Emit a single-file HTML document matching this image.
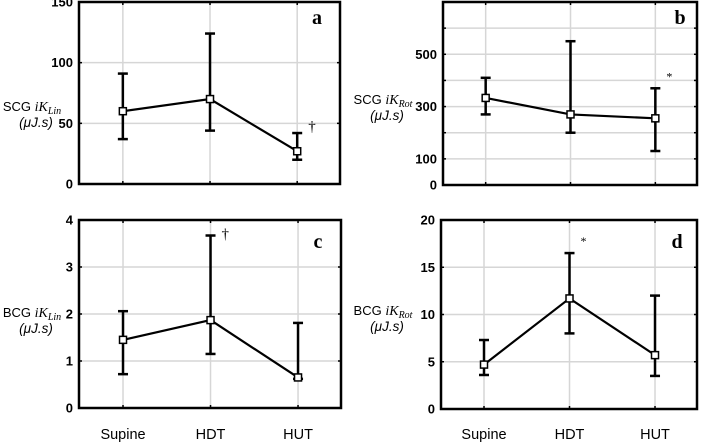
<!DOCTYPE html>
<html><head><meta charset="utf-8"><style>
body{margin:0;background:#fff;}
svg{display:block;font-family:"Liberation Sans",sans-serif;}
</style></head><body>
<svg id="c" width="708" height="443"></svg>
<script>
const categories=["Supine","HDT","HUT"];
const aMean=[60,70,27], aLo=[37,44,20], aHi=[91,124,42];
const bMean=[333,270,255], bLo=[270,200,130], bHi=[410,550,370];
const cMean=[1.45,1.87,0.65], cLo=[0.72,1.15,0.62], cHi=[2.06,3.67,1.81];
const dMean=[4.7,11.7,5.7], dLo=[3.6,8.0,3.5], dHi=[7.3,16.5,12.0];
const aTicks=[0,50,100,150], bTicks=[0,100,300,500], cTicks=[0,1,2,3,4], dTicks=[0,5,10,15,20];
const bGrid=[100,200,300,400,500,600];
const svg=document.getElementById('c');
const NS='http://www.w3.org/2000/svg';
function mk(t,a,p){const e=document.createElementNS(NS,t);for(const k in a)e.setAttribute(k,a[k]);(p||svg).appendChild(e);return e;}
const panels=[
 {id:'a',L:79,R:340,T:2,B:184,max:150,mean:aMean,lo:aLo,hi:aHi,ticks:aTicks,grid:aTicks,lab:'SCG',sub:'Lin',lx:32,ly:111,mark:'†',mi:2,lt:[317,24]},
 {id:'b',L:443,R:697,T:2,B:185,max:700,mean:bMean,lo:bLo,hi:bHi,ticks:bTicks,grid:bGrid,lab:'SCG',sub:'Rot',lx:383,ly:104,mark:'*',mi:2,lt:[680,24]},
 {id:'c',L:79,R:341,T:220,B:408,max:4,mean:cMean,lo:cLo,hi:cHi,ticks:cTicks,grid:cTicks,lab:'BCG',sub:'Lin',lx:32,ly:317,mark:'†',mi:1,lt:[318,248],xl:true},
 {id:'d',L:441,R:697,T:220,B:409,max:20,mean:dMean,lo:dLo,hi:dHi,ticks:dTicks,grid:dTicks,lab:'BCG',sub:'Rot',lx:383,ly:315,mark:'*',mi:1,lt:[677,248],xl:true}
];
panels.forEach(p=>{
 const g=mk('g',{});
 
 
 const y=v=>p.B-(v/p.max)*(p.B-p.T);
 const w=p.R-p.L;
 const x=i=>p.L+w*(0.168+i*0.334);
 p.grid.forEach(v=>{const l=mk('line',{x1:p.L,x2:p.R,y1:y(v),y2:y(v),stroke:'#d6d6d6','stroke-width':1.5},g);
  
  mk('line',{x1:p.L,x2:p.L+3,y1:y(v),y2:y(v),stroke:'#000','stroke-width':1.5},g);
  mk('line',{x1:p.R-3,x2:p.R,y1:y(v),y2:y(v),stroke:'#000','stroke-width':1.5},g);});
 categories.forEach((c,i)=>{const l=mk('line',{x1:x(i),x2:x(i),y1:p.T,y2:p.B,stroke:'#d6d6d6','stroke-width':1.5},g);
  
  mk('line',{x1:x(i),x2:x(i),y1:p.B-3,y2:p.B,stroke:'#000','stroke-width':1.5},g);
  mk('line',{x1:x(i),x2:x(i),y1:p.T,y2:p.T+3,stroke:'#000','stroke-width':1.5},g);
  if(p.xl){const t=mk('text',{x:x(i),y:439,'text-anchor':'middle','font-size':14.5},g);t.textContent=c;
   }
 });
 p.ticks.forEach(v=>{const t=mk('text',{x:p.L-6,y:y(v)+4.5,'text-anchor':'end','font-size':13,'font-weight':'bold'},g);t.textContent=v;
  });
 const fr=mk('rect',{x:p.L,y:p.T,width:w,height:p.B-p.T,fill:'none',stroke:'#000','stroke-width':2.5},g);
 
 categories.forEach((c,i)=>{const e=mk('g',{stroke:'#000','stroke-width':2.5},g);
  
  mk('line',{x1:x(i),x2:x(i),y1:y(p.lo[i]),y2:y(p.hi[i])},e);
  mk('line',{x1:x(i)-5,x2:x(i)+5,y1:y(p.lo[i]),y2:y(p.lo[i])},e);
  mk('line',{x1:x(i)-5,x2:x(i)+5,y1:y(p.hi[i]),y2:y(p.hi[i])},e);});
 const pl=mk('polyline',{points:categories.map((c,i)=>x(i)+','+y(p.mean[i])).join(' '),fill:'none',stroke:'#000','stroke-width':2.2},g);
 
 categories.forEach((c,i)=>{const r=mk('rect',{x:x(i)-3.5,y:y(p.mean[i])-3.5,width:7,height:7,fill:'#fff',stroke:'#000','stroke-width':1.5},g);
  });
 const mx=x(p.mi)+11, my=y(p.hi[p.mi])-(p.mark==='*'?8:-6);
 const m=mk('text',{x:mx,y:p.id==='a'?y(p.hi[p.mi])-2:(p.id==='c'?y(p.hi[p.mi])+3:my),'font-size':p.mark==='*'?12:15,'font-family':'Liberation Serif,serif'},g);m.textContent=p.mark;
 
 const lt=mk('text',{x:p.lt[0],y:p.lt[1],'font-size':20,'font-weight':'bold','font-family':'Liberation Serif,serif','text-anchor':'middle'},g);lt.textContent=p.id;
 
 const yl=mk('text',{x:p.lx,y:p.ly,'text-anchor':'middle','font-size':13},g);
 
 yl.innerHTML=p.lab+' <tspan font-style="italic" font-family="Liberation Serif,serif" font-size="14">iK</tspan><tspan font-style="italic" font-family="Liberation Serif,serif" font-size="10" dy="3">'+p.sub+'</tspan>';
 const yu=mk('text',{x:p.lx+4,y:p.ly+16,'text-anchor':'middle','font-size':13.5,'font-style':'italic'},g);yu.textContent='(μJ.s)';
 
});
</script>
</body></html>
